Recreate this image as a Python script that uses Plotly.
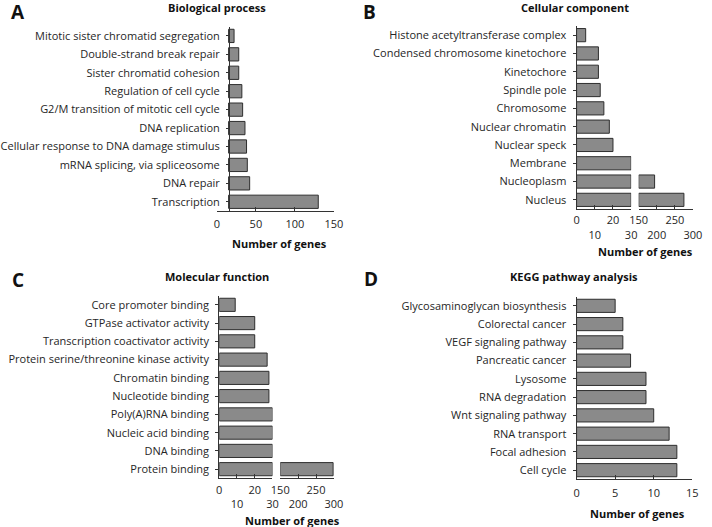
import plotly.graph_objects as go

W, H = 712, 527

# ---------------- data ----------------
bp_terms = ["Mitotic sister chromatid segregation", "Double-strand break repair",
            "Sister chromatid cohesion", "Regulation of cell cycle",
            "G2/M transition of mitotic cell cycle", "DNA replication",
            "Cellular response to DNA damage stimulus", "mRNA splicing, via spliceosome",
            "DNA repair", "Transcription"]
bp_counts = [22, 28, 28, 32, 33, 36, 38, 39, 42, 130]
bp_axis_cross = 15
bp_ticks = [0, 50, 100, 150]

cc_terms = ["Histone acetyltransferase complex", "Condensed chromosome kinetochore",
            "Kinetochore", "Spindle pole", "Chromosome", "Nuclear chromatin",
            "Nuclear speck", "Membrane", "Nucleoplasm", "Nucleus"]
cc_counts = [5, 12, 12, 13, 15, 18, 20, 70, 194, 275]

mf_terms = ["Core promoter binding", "GTPase activator activity",
            "Transcription coactivator activity", "Protein serine/threonine kinase activity",
            "Chromatin binding", "Nucleotide binding", "Poly(A)RNA binding",
            "Nucleic acid binding", "DNA binding", "Protein binding"]
mf_counts = [9, 20, 20, 27, 28, 28, 34, 33, 35, 298]

kegg_terms = ["Glycosaminoglycan biosynthesis", "Colorectal cancer", "VEGF signaling pathway",
              "Pancreatic cancer", "Lysosome", "RNA degradation", "Wnt signaling pathway",
              "RNA transport", "Focal adhesion", "Cell cycle"]
kegg_counts = [5, 6, 6, 7, 9, 9, 10, 12, 13, 13]
kegg_ticks = [0, 5, 10, 15]

break_low = [0, 30]
break_high = [150, 300]
low_ticks = [0, 10, 20, 30]
high_ticks = [150, 200, 250, 300]

# ---------------- helpers ----------------
def fx(px):
    return px / W

def fy(py):
    return 1 - py / H

FONT = "Open Sans"
TXT = "#262626"
FILL = "#8a8a8a"
EDGE = "#2e2e2e"
BW = 0.72

def bar(y, x, xa, ya, base=None):
    return go.Bar(y=y, x=x, base=base, orientation="h", xaxis=xa, yaxis=ya,
                  width=BW, marker=dict(color=FILL, line=dict(color=EDGE, width=1)),
                  showlegend=False, hoverinfo="skip")

fig = go.Figure()

# A
fig.add_trace(bar(bp_terms, [v - bp_axis_cross for v in bp_counts], "x", "y",
                  base=bp_axis_cross))
# B (broken axis)
fig.add_trace(bar(cc_terms, [min(v, break_low[1]) for v in cc_counts], "x2", "y2"))
fig.add_trace(bar(cc_terms, [v - break_high[0] if v > break_high[0] else None for v in cc_counts],
                  "x3", "y2", base=break_high[0]))
# C (broken axis)
fig.add_trace(bar(mf_terms, [min(v, break_low[1]) for v in mf_counts], "x4", "y3"))
fig.add_trace(bar(mf_terms, [v - break_high[0] if v > break_high[0] else None for v in mf_counts],
                  "x5", "y3", base=break_high[0]))
# D
fig.add_trace(bar(kegg_terms, kegg_counts, "x6", "y4"))

tickfont = dict(family=FONT, size=11, color=TXT)

def xax(domain, rng, ticks, text, anchor, standoff=3):
    return dict(domain=domain, range=rng, anchor=anchor, tickvals=ticks, ticktext=text,
                tickangle=0, showline=True, linecolor="#333", linewidth=1, ticks="inside",
                ticklen=4, tickcolor="#333", showgrid=False, zeroline=False,
                tickfont=tickfont, fixedrange=True, ticklabelstandoff=standoff)

def yax(domain, anchor, position=None):
    d = dict(domain=domain, type="category", range=[9.5, -0.5], anchor=anchor,
             showline=True, linecolor="#333", linewidth=1, ticks="outside",
             ticklen=3, tickcolor="#333", showgrid=False, zeroline=False,
             tickfont=tickfont, fixedrange=True, ticklabelstandoff=4)
    if position is not None:
        d["position"] = position
    return d

def stag(vals):
    return [str(v) if i % 2 == 0 else "<br>" + str(v) for i, v in enumerate(vals)]

layout = dict(
    width=W, height=H, margin=dict(l=0, r=0, t=0, b=0),
    paper_bgcolor="white", plot_bgcolor="rgba(0,0,0,0)",
    font=dict(family=FONT, color=TXT),
    xaxis=xax([fx(213.3), fx(333.3)], [0, 150], bp_ticks, [str(t) for t in bp_ticks], "y"),
    yaxis=yax([fy(211), fy(26.7)], "free", fx(225.7)),
    xaxis2=xax([fx(582.3), fx(638.3)], break_low, low_ticks, stag(low_ticks), "y2", 1),
    xaxis3=xax([fx(646), fx(701.7)], break_high, high_ticks, stag(high_ticks), "y2", 1),
    yaxis2=yax([fy(209), fy(26)], "x2"),
    xaxis4=xax([fx(215.7), fx(270.3)], break_low, low_ticks, stag(low_ticks), "y3", 1),
    xaxis5=xax([fx(278.3), fx(333.3)], break_high, high_ticks, stag(high_ticks), "y3", 1),
    yaxis3=yax([fy(478.3), fy(295.7)], "x4"),
    xaxis6=xax([fx(582.3), fx(701)], [0, 15], kegg_ticks, [str(t) for t in kegg_ticks], "y4"),
    yaxis4=yax([fy(479.3), fy(296.7)], "x6"),
)
fig.update_layout(**layout)

def note(text, x, y, size, bold=True, xanchor="center"):
    fig.add_annotation(text=f"<b>{text}</b>" if bold else text, x=fx(x), y=fy(y),
                       xref="paper", yref="paper", xanchor=xanchor, yanchor="middle",
                       showarrow=False, font=dict(family=FONT, size=size, color="#111"))

# panel letters
note("A", 0, 12, 19, xanchor="left")
note("B", 361, 12, 19, xanchor="left")
note("C", 1, 280, 19, xanchor="left")
note("D", 362, 279, 19, xanchor="left")
# panel titles
note("Biological process", 213, 7, 11)
note("Cellular component", 581, 7, 11)
note("Molecular function", 213, 276, 11)
note("KEGG pathway analysis", 580, 276, 11)
# axis titles
note("Number of genes", 278, 243, 11)
note("Number of genes", 653, 251, 11)
note("Number of genes", 291, 520, 11)
note("Number of genes", 645, 513, 11)

fig.write_html("out.html", config={"displayModeBar": False},
               post_script="document.body.style.margin='0';document.body.style.overflow='hidden';")
